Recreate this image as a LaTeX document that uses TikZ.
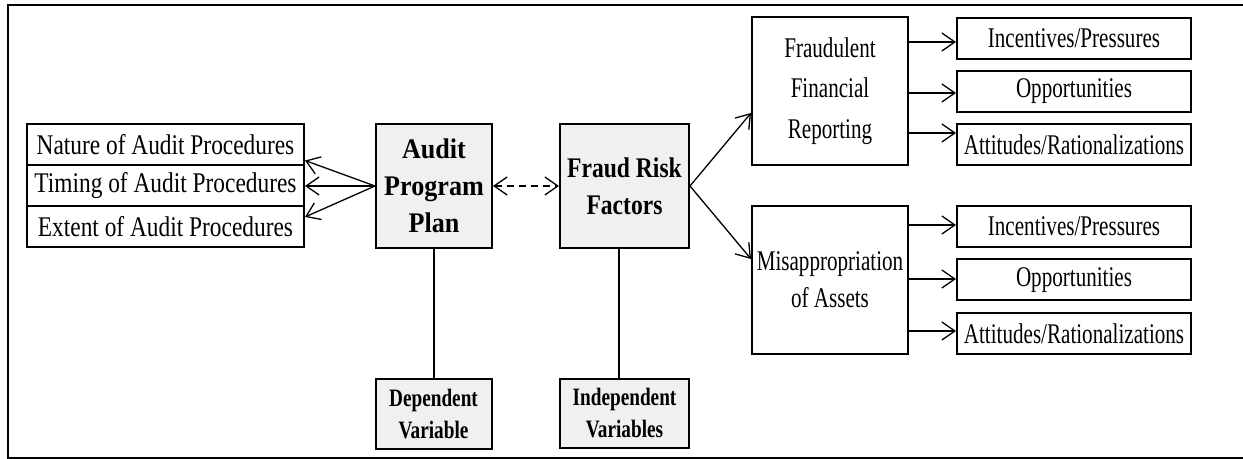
\documentclass[tikz,border=0pt]{standalone}
\usepackage{fontspec}
\setmainfont{Liberation Serif}
\newfontfamily\condL{Liberation Serif}[FakeStretch=0.82]
\newfontfamily\condR{Liberation Serif}[FakeStretch=0.74]
\newfontfamily\condK{Liberation Serif}[FakeStretch=0.83]
\newfontfamily\condA{Liberation Serif}[FakeStretch=0.92]
\newfontfamily\condV{Liberation Serif}[FakeStretch=0.77]
\usetikzlibrary{arrows.meta}
\begin{document}
\begin{tikzpicture}[x=0.5pt,y=-0.5pt,
  box/.style={draw, line width=1pt, inner sep=0pt, align=center},
  lbox/.style={box, minimum width=138.5pt, minimum height=20.5pt, font=\condL\fontsize{14.25}{16}\selectfont},
  rbox/.style={box, minimum width=117pt, minimum height=20.5pt, font=\condR\fontsize{14.25}{16}\selectfont},
  mbox/.style={box, minimum width=78pt, minimum height=74pt},
  keybox/.style={box, fill=black!6, minimum height=62pt},
  varbox/.style={box, fill=black!6, font=\condV\bfseries\fontsize{12.5}{16}\selectfont},
  arr/.style={line width=0.65pt, -{Straight Barb[length=6.5pt,width=9pt]}},
  darr/.style={line width=0.65pt, dash pattern=on 3.5pt off 2.5pt, {Straight Barb[length=6.5pt,width=9pt]}-{Straight Barb[length=6.5pt,width=9pt]}},
  ln/.style={line width=0.65pt}]
\useasboundingbox (0,0) rectangle (1243,459);
\begin{scope}
\clip (0,0) rectangle (1243,459);
\draw[line width=1pt] (1260,5) -- (8,5) -- (8,458) -- (1260,458);
\end{scope}

% left stack
\node[lbox] (nat) at (165.5,144.5) {Nature of Audit Procedures};
\node[lbox] (tim) at (165.5,186) {Timing of Audit Procedures};
\node[lbox] (ext) at (165.5,227) {Extent of Audit Procedures};

% key boxes
\node[keybox, minimum width=58pt, font=\condA\bfseries\fontsize{14.2}{18.5}\selectfont] (apl) at (434,186) {Audit\\Program\\Plan};
\node[keybox, minimum width=64.5pt, font=\condK\bfseries\fontsize{14.2}{18.5}\selectfont] (frf) at (624.5,186) {Fraud Risk\\Factors};

% variable boxes
\node[varbox, minimum width=58pt, minimum height=35pt] (dep) at (433.5,414) {Dependent\\Variable};
\node[varbox, minimum width=64.5pt, minimum height=34.5pt] (ind) at (624.5,413.5) {Independent\\Variables};

% middle boxes
\node[mbox, font=\condR\fontsize{14.25}{20.3}\selectfont] (ffr) at (830,91) {Fraudulent\\Financial\\Reporting};
\node[mbox, font=\condR\fontsize{14.25}{18.5}\selectfont] (moa) at (830,280) {Misappropriation\\of Assets};

% right boxes
\node[rbox] (i1) at (1074,38.5) {Incentives/Pressures};
\node[rbox] (o1) at (1074,91.5) {Opportunities};
\node[rbox] (a1) at (1074,145) {Attitudes/Rationalizations};
\node[rbox] (i2) at (1074,226.5) {Incentives/Pressures};
\node[rbox] (o2) at (1074,280) {Opportunities};
\node[rbox] (a2) at (1074,333.5) {Attitudes/Rationalizations};

% connectors
\draw[arr] (apl.west) -- ([yshift=-8pt]nat.east);
\draw[arr] (apl.west) -- (tim.east);
\draw[arr] (apl.west) -- ([yshift=5pt]ext.east);

\draw[darr] (apl.east) -- (frf.west);

\draw[ln] (apl.south) -- (apl.south |- dep.north);
\draw[ln] ([xshift=-2.75pt]frf.south) -- ([xshift=-2.75pt]frf.south |- ind.north);

\draw[arr] (frf.east) -- ([yshift=-11pt]ffr.west);
\draw[arr] (frf.east) -- ([yshift=10.5pt]moa.west);

\draw[arr] ([yshift=24.5pt]ffr.east) -- ([yshift=24.5pt]ffr.east -| i1.west);
\draw[arr] ([yshift=-1pt]ffr.east) -- ([yshift=-1pt]ffr.east -| o1.west);
\draw[arr] ([yshift=-21pt]ffr.east) -- ([yshift=-21pt]ffr.east -| a1.west);

\draw[arr] ([yshift=27.5pt]moa.east) -- ([yshift=27.5pt]moa.east -| i2.west);
\draw[arr] ([yshift=0.5pt]moa.east) -- ([yshift=0.5pt]moa.east -| o2.west);
\draw[arr] ([yshift=-25.5pt]moa.east) -- ([yshift=-25.5pt]moa.east -| a2.west);
\end{tikzpicture}
\end{document}
